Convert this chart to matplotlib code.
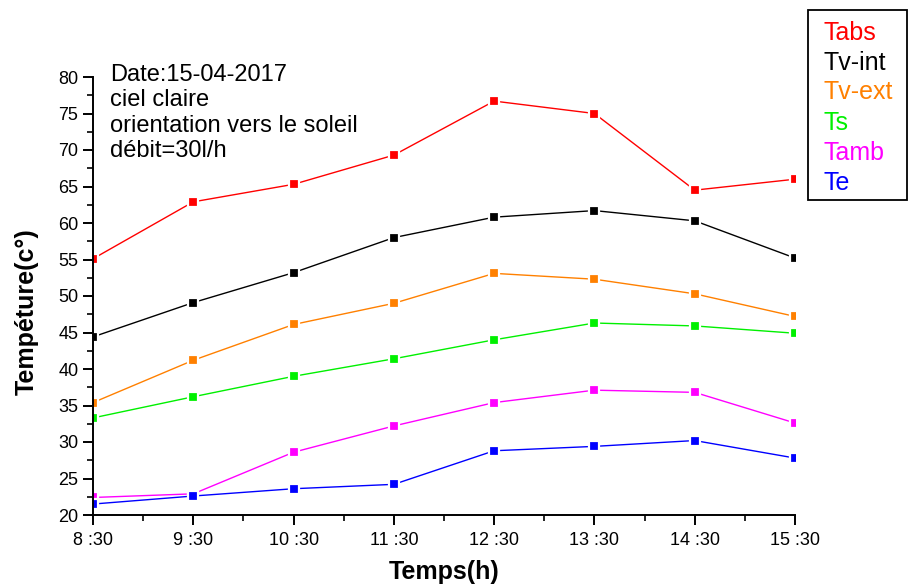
import matplotlib
matplotlib.use("Agg")
import matplotlib.pyplot as plt
from matplotlib.ticker import MultipleLocator
from matplotlib.patches import Rectangle

plt.rcParams['font.family'] = ['Liberation Sans', 'DejaVu Sans']

# --- data ---
hours = ["8 :30", "9 :30", "10 :30", "11 :30", "12 :30", "13 :30", "14 :30", "15 :30"]
tabs = [55.1, 62.9, 65.3, 69.3, 76.7, 75.0, 64.5, 66.0]
tv_int = [44.4, 49.1, 53.2, 58.0, 60.8, 61.7, 60.3, 55.2]
tv_ext = [35.4, 41.2, 46.1, 49.0, 53.1, 52.3, 50.3, 47.2]
ts = [33.3, 36.2, 39.0, 41.4, 44.0, 46.3, 45.9, 44.9]
tamb = [22.4, 22.9, 28.6, 32.2, 35.4, 37.1, 36.8, 32.6]
te = [21.5, 22.6, 23.6, 24.2, 28.8, 29.4, 30.2, 27.8]

series = [
    ("Tabs", tabs, "#ff0000"),
    ("Tv-int", tv_int, "#000000"),
    ("Tv-ext", tv_ext, "#ff8000"),
    ("Ts", ts, "#00f000"),
    ("Tamb", tamb, "#ff00ff"),
    ("Te", te, "#0000ff"),
]

W, H = 909, 584
fig = plt.figure(figsize=(W / 100, H / 100), dpi=100)
ax = fig.add_axes([93 / W, (H - 515) / H, 702 / W, 438 / H])

x = list(range(len(hours)))
for name, vals, col in series:
    ax.plot(x, vals, color=col, lw=1.0, marker='s', markersize=7,
            markerfacecolor=col, markeredgecolor='white', markeredgewidth=1.6,
            label=name)

ax.set_xlim(0, 7)
ax.set_ylim(20, 80)
ax.set_xticks(x)
ax.set_xticklabels(hours)
ax.xaxis.set_minor_locator(MultipleLocator(0.5))
ax.yaxis.set_major_locator(MultipleLocator(5))
ax.yaxis.set_minor_locator(MultipleLocator(2.5))

for side in ['top', 'right']:
    ax.spines[side].set_visible(False)
for side in ['left', 'bottom']:
    ax.spines[side].set_linewidth(1.4)
ax.tick_params(which='major', direction='out', length=7, width=1.4, labelsize=13)
ax.tick_params(which='minor', direction='out', length=4, width=1.2)
ax.tick_params(axis='x', pad=5)

ax.set_xlabel("Temps(h)", fontsize=18, fontweight='bold', va='center')
ax.xaxis.set_label_coords(0.5, (515 - 572) / 438)
ax.set_ylabel("Tempéture(c°)", fontsize=18, fontweight='bold', va='center')
ax.yaxis.set_label_coords((27 - 93) / 702, (515 - 312) / 438)

ax.text(0.024, 1.030, "Date:15-04-2017\nciel claire\norientation vers le soleil\ndébit=30l/h",
        transform=ax.transAxes, fontsize=17, va='top', ha='left', linespacing=1.2)

# legend box drawn as coloured texts inside a frame
fig.patches.append(Rectangle((808 / W, (H - 200) / H), 99 / W, 190 / H,
                             transform=fig.transFigure, fill=False,
                             edgecolor='black', lw=1.3))
for i, (name, _, col) in enumerate(series):
    fig.text(824 / W, (H - (30 + 30 * i)) / H, name, color=col, fontsize=18,
             ha='left', va='center_baseline')

fig.savefig("out.png", dpi=100)
